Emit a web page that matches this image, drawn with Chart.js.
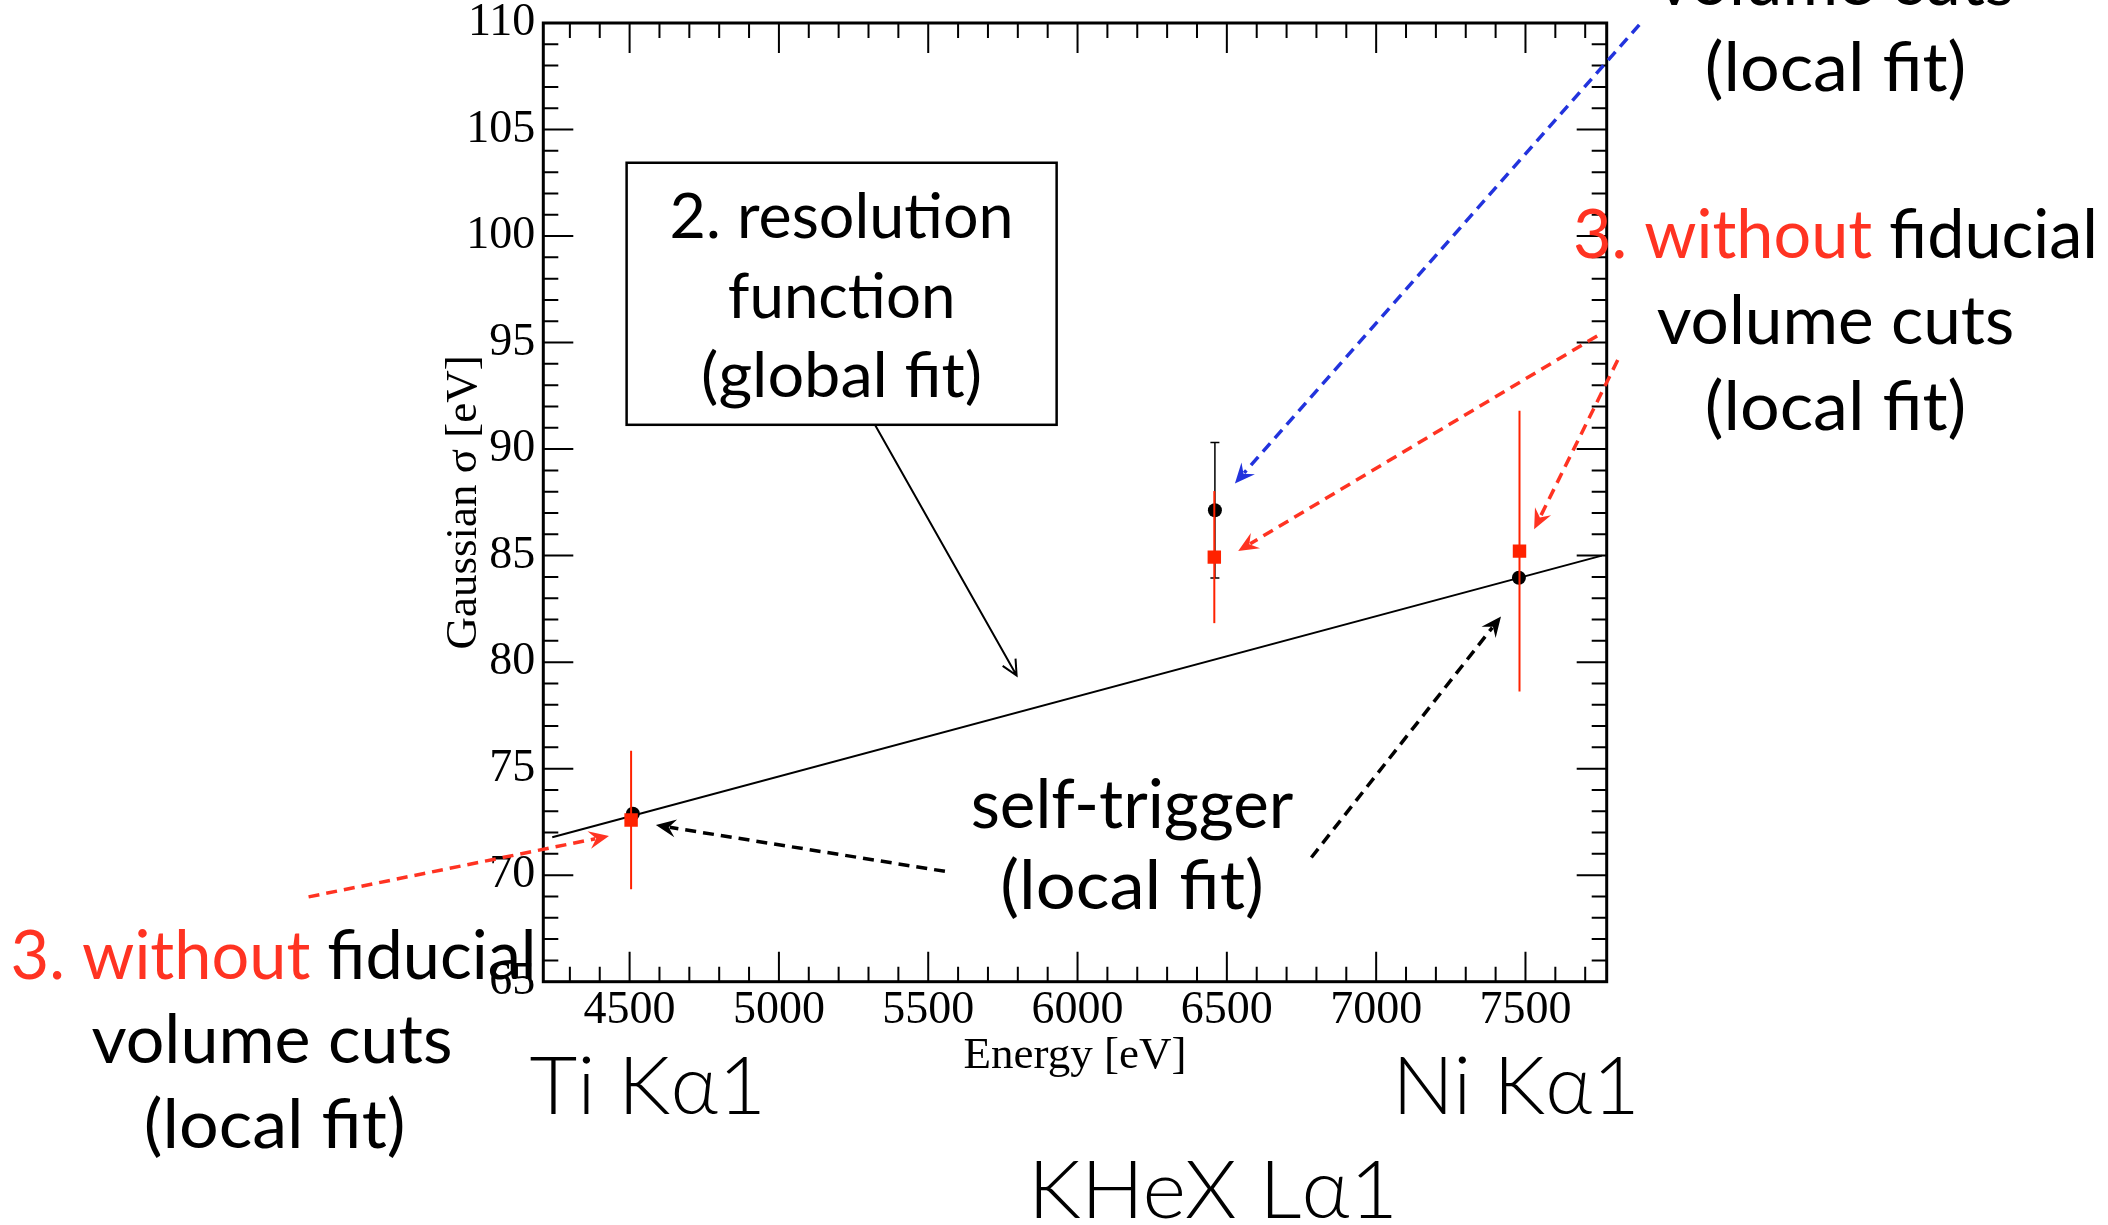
<!DOCTYPE html>
<html>
<head>
<meta charset="utf-8">
<script src="https://cdn.jsdelivr.net/npm/chart.js@4.4.1/dist/chart.umd.min.js"></script>
<style>
  html, body { margin: 0; padding: 0; background: #fff; }
  canvas { display: block; }
</style>
</head>
<body>
<canvas id="sigma-vs-energy" width="2108" height="1225"></canvas>
<script>
// self-trigger, local fit (black circles)
const blackEnergy = [4511, 6460, 7478];
const blackSigma = [72.88, 87.13, 83.96];
const blackError = [0, 3.18, 0];

// without fiducial volume cuts, local fit (red squares)
const redEnergy = [4505, 6458, 7480];
const redSigma = [72.59, 84.93, 85.21];
const redError = [3.25, 3.1, 6.59];

// resolution function, global fit
const fitEnergy = [4241, 7756];
const fitSigma = [71.78, 85.0];

// axis ticks
const xTickValues = [4500, 5000, 5500, 6000, 6500, 7000, 7500];
const yTickValues = [65, 70, 75, 80, 85, 90, 95, 100, 105, 110];

const INK = '#000000';
const RED = '#ff3322';
const BLUE = '#2233dd';

// pointer arrows, ends given in axis units [energy, sigma]
const arrows = [
    { from: [5322, 91.13], to: [5796, 79.37], color: INK, dashed: false },
    { from: [5556, 70.18], to: [4588, 72.35], color: INK, dashed: true },
    { from: [6783, 70.83], to: [7418, 82.14], color: INK, dashed: true },
    { from: [3425, 68.98], to: [4431, 71.84], color: RED, dashed: true },
    { from: [7740, 95.31], to: [6538, 85.22], color: RED, dashed: true },
    { from: [7809, 94.18], to: [7529, 86.24], color: RED, dashed: true },
    { from: [7881, 109.91], to: [6527, 88.39], color: BLUE, dashed: true }
];

// framed label box, corners in axis units
const labelBox = { e1: 4490, e2: 5930, s1: 103.44, s2: 91.14 };

const SANS = 'Lato, "Open Sans", sans-serif';
const notes = [
    { parts: [['volume cuts', INK]], x: 1835.5, y: 5, w: 357.6, size: 67 },
    { parts: [['(local fit)', INK]], x: 1835.5, y: 90.7, w: 261.6, size: 67 },
    { parts: [['3. without', RED], [' fiducial', INK]], x: 1835.5, y: 258.3, w: 525, size: 67 },
    { parts: [['volume cuts', INK]], x: 1835.5, y: 344.3, w: 357.6, size: 67 },
    { parts: [['(local fit)', INK]], x: 1835.5, y: 430, w: 261.6, size: 67 },
    { parts: [['2. resolution', INK]], x: 841.6, y: 238, w: 344, size: 62 },
    { parts: [['function', INK]], x: 841.6, y: 318, w: 227.5, size: 62 },
    { parts: [['(global fit)', INK]], x: 841.6, y: 397, w: 281, size: 62 },
    { parts: [['self-trigger', INK]], x: 1132, y: 828, w: 322.6, size: 67 },
    { parts: [['(local fit)', INK]], x: 1132, y: 909, w: 263.7, size: 67 },
    { parts: [['3. without', RED], [' fiducial', INK]], x: 273.6, y: 979.3, w: 526, size: 67 },
    { parts: [['volume cuts', INK]], x: 272, y: 1063.3, w: 361, size: 67 },
    { parts: [['(local fit)', INK]], x: 274.7, y: 1148.3, w: 261.7, size: 67 },
    { parts: [['Ti Kα1', INK]], x: 647.8, y: 1113.5, w: 236.4, size: 80, weight: 300 },
    { parts: [['Ni Kα1', INK]], x: 1516, y: 1113.5, w: 247.5, size: 80, weight: 300 },
    { parts: [['KHeX Lα1', INK]], x: 1213, y: 1218, w: 370, size: 80, weight: 300 }
];

function toPoints(xs, ys) {
    let pts = [];
    for (let i = 0; i < xs.length; i++) {
        pts.push({ x: xs[i], y: ys[i] });
    }
    return pts;
}

function drawNote(ctx, note) {
    ctx.save();
    ctx.font = (note.weight || 400) + ' ' + note.size + 'px ' + SANS;
    ctx.textBaseline = 'alphabetic';
    ctx.textAlign = 'left';
    const full = note.parts.map(p => p[0]).join('');
    const k = note.w / ctx.measureText(full).width;
    ctx.translate(note.x - note.w / 2, note.y);
    ctx.scale(k, 1);
    let x = 0;
    note.parts.forEach(([txt, color]) => {
        ctx.fillStyle = color;
        ctx.fillText(txt, x, 0);
        x += ctx.measureText(txt).width;
    });
    ctx.restore();
}

function drawArrow(ctx, x1, y1, x2, y2, color, dashed) {
    const ang = Math.atan2(y2 - y1, x2 - x1);
    const c = Math.cos(ang), s = Math.sin(ang);
    ctx.save();
    ctx.strokeStyle = color;
    ctx.fillStyle = color;
    if (dashed) {
        // dashed shaft with a filled notched head
        ctx.lineWidth = 3.5;
        ctx.setLineDash([11, 7]);
        ctx.beginPath();
        ctx.moveTo(x1, y1);
        ctx.lineTo(x2 - 14 * c, y2 - 14 * s);
        ctx.stroke();
        ctx.setLineDash([]);
        const a = 0.42, len = 22;
        ctx.beginPath();
        ctx.moveTo(x2, y2);
        ctx.lineTo(x2 - len * Math.cos(ang - a), y2 - len * Math.sin(ang - a));
        ctx.lineTo(x2 - 13 * c, y2 - 13 * s);
        ctx.lineTo(x2 - len * Math.cos(ang + a), y2 - len * Math.sin(ang + a));
        ctx.closePath();
        ctx.fill();
    } else {
        // thin solid shaft with an open head
        ctx.lineWidth = 2;
        ctx.beginPath();
        ctx.moveTo(x1, y1);
        ctx.lineTo(x2, y2);
        const a = 0.45, len = 17;
        ctx.moveTo(x2 - len * Math.cos(ang - a), y2 - len * Math.sin(ang - a));
        ctx.lineTo(x2, y2);
        ctx.lineTo(x2 - len * Math.cos(ang + a), y2 - len * Math.sin(ang + a));
        ctx.stroke();
    }
    ctx.restore();
}

// error bars, frame with inward ticks, and the annotations
const rootStyle = {
    id: 'rootStyle',
    beforeDatasetDraw(chart, args) {
        const ds = chart.data.datasets[args.index];
        if (!ds.errors) return;
        const xs = chart.scales.x, ys = chart.scales.y, ctx = chart.ctx;
        ctx.save();
        ctx.strokeStyle = ds.errorColor;
        ctx.lineWidth = ds.errorWidth;
        ds.data.forEach((p, i) => {
            const e = ds.errors[i];
            if (!e) return;
            const px = xs.getPixelForValue(p.x);
            const yTop = ys.getPixelForValue(p.y + e);
            const yBot = ys.getPixelForValue(p.y - e);
            ctx.beginPath();
            ctx.moveTo(px, yTop);
            ctx.lineTo(px, yBot);
            if (ds.capWidth) {
                ctx.moveTo(px - ds.capWidth / 2, yTop);
                ctx.lineTo(px + ds.capWidth / 2, yTop);
                ctx.moveTo(px - ds.capWidth / 2, yBot);
                ctx.lineTo(px + ds.capWidth / 2, yBot);
            }
            ctx.stroke();
        });
        ctx.restore();
    },
    afterDraw(chart) {
        const ctx = chart.ctx;
        const xs = chart.scales.x, ys = chart.scales.y;
        const { left, right, top, bottom } = chart.chartArea;

        ctx.save();
        ctx.strokeStyle = INK;
        ctx.lineWidth = 2;
        ctx.beginPath();
        for (let v = 4300; v <= xs.max; v += 100) {
            const px = xs.getPixelForValue(v);
            const len = xTickValues.includes(v) ? 30 : 15;
            ctx.moveTo(px, bottom);
            ctx.lineTo(px, bottom - len);
            ctx.moveTo(px, top);
            ctx.lineTo(px, top + len);
        }
        for (let v = ys.min + 1; v < ys.max; v += 1) {
            const py = ys.getPixelForValue(v);
            const len = yTickValues.includes(v) ? 30 : 15;
            ctx.moveTo(left, py);
            ctx.lineTo(left + len, py);
            ctx.moveTo(right, py);
            ctx.lineTo(right - len, py);
        }
        ctx.stroke();
        ctx.lineWidth = 3;
        ctx.strokeRect(left, top, right - left, bottom - top);

        // label box
        const bx1 = xs.getPixelForValue(labelBox.e1), bx2 = xs.getPixelForValue(labelBox.e2);
        const by1 = ys.getPixelForValue(labelBox.s1), by2 = ys.getPixelForValue(labelBox.s2);
        ctx.fillStyle = '#ffffff';
        ctx.fillRect(bx1, by1, bx2 - bx1, by2 - by1);
        ctx.lineWidth = 2.5;
        ctx.strokeRect(bx1, by1, bx2 - bx1, by2 - by1);
        ctx.restore();

        arrows.forEach(a => {
            drawArrow(ctx,
                xs.getPixelForValue(a.from[0]), ys.getPixelForValue(a.from[1]),
                xs.getPixelForValue(a.to[0]), ys.getPixelForValue(a.to[1]),
                a.color, a.dashed);
        });

        notes.forEach(n => drawNote(ctx, n));
    }
};

const serifTicks = { family: '"Liberation Serif", "Times New Roman", serif', size: 46 };

const chart = new Chart(document.getElementById('sigma-vs-energy'), {
    type: 'scatter',
    data: {
        datasets: [{
            label: 'without fiducial volume cuts',
            data: toPoints(redEnergy, redSigma),
            errors: redError,
            errorColor: '#ff2200',
            errorWidth: 2,
            pointStyle: 'rect',
            pointRadius: 9.5,
            backgroundColor: '#ff2200',
            borderWidth: 0,
            order: 0
        }, {
            label: 'self-trigger',
            data: toPoints(blackEnergy, blackSigma),
            errors: blackError,
            errorColor: INK,
            errorWidth: 1.5,
            capWidth: 9,
            pointStyle: 'circle',
            pointRadius: 7,
            backgroundColor: INK,
            borderWidth: 0,
            order: 1
        }, {
            label: 'resolution function',
            type: 'line',
            data: toPoints(fitEnergy, fitSigma),
            showLine: true,
            borderColor: INK,
            borderWidth: 2,
            pointRadius: 0,
            fill: false,
            order: 2
        }]
    },
    options: {
        responsive: false,
        animation: false,
        devicePixelRatio: 1,
        layout: { padding: { top: 23, right: 501.3, bottom: 0, left: 0 } },
        plugins: { legend: { display: false }, tooltip: { enabled: false } },
        scales: {
            x: {
                type: 'linear',
                min: 4211,
                max: 7772,
                grid: { display: false, drawTicks: false },
                border: { display: false },
                ticks: {
                    includeBounds: false,
                    font: serifTicks,
                    color: INK,
                    padding: 2,
                    maxRotation: 0,
                    callback: v => String(v)
                },
                afterBuildTicks: scale => { scale.ticks = xTickValues.map(v => ({ value: v })); },
                afterFit: scale => {
                    scale.height = 243.3;
                    scale.paddingLeft = 0;
                    scale.paddingRight = 0;
                },
                title: {
                    display: true,
                    text: 'Energy [eV]',
                    color: INK,
                    font: { family: '"Liberation Serif", serif', size: 45 },
                    padding: { top: 0, bottom: 142 }
                }
            },
            y: {
                type: 'linear',
                min: 65,
                max: 110,
                grid: { display: false, drawTicks: false },
                border: { display: false },
                ticks: {
                    includeBounds: false,
                    font: serifTicks,
                    color: INK,
                    padding: 8,
                    callback: v => String(v)
                },
                afterBuildTicks: scale => { scale.ticks = yTickValues.map(v => ({ value: v })); },
                afterFit: scale => {
                    scale.width = 543.3;
                    scale.paddingTop = 0;
                    scale.paddingBottom = 0;
                },
                title: {
                    display: true,
                    text: 'Gaussian σ [eV]',
                    color: INK,
                    font: { family: '"Liberation Serif", serif', size: 45 },
                    padding: { top: 437, bottom: 0 }
                }
            }
        }
    },
    plugins: [rootStyle]
});
</script>
</body>
</html>
